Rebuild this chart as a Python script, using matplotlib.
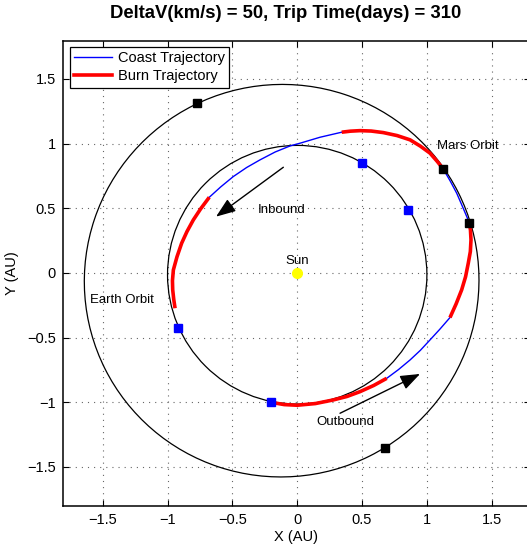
import matplotlib
matplotlib.use("Agg")
import matplotlib.pyplot as plt
from matplotlib.patches import Ellipse
from matplotlib.lines import Line2D

plt.rcParams['font.family'] = ['Liberation Sans', 'DejaVu Sans']

# ---- data (AU) ----
title_txt = "DeltaV(km/s) = 50, Trip Time(days) = 310"

# orbit ellipses: center, width, height, angle
earth_orbit = dict(cx=0.0, cy=-0.014, w=2.0, h=2.0, ang=0.0)
mars_orbit = dict(cx=-0.12, cy=-0.06, w=3.046, h=3.032, ang=26.6)

burn1_x = [-0.204, -0.1, 0.0, 0.14, 0.278, 0.384, 0.484, 0.59, 0.69]
burn1_y = [-1.0, -1.018, -1.023, -1.01, -0.982, -0.955, -0.918, -0.87, -0.815]
coast1_x = [0.69, 0.78, 0.87, 0.95, 1.024, 1.10, 1.178]
coast1_y = [-0.815, -0.748, -0.673, -0.598, -0.518, -0.435, -0.345]
burn2_x = [1.178, 1.225, 1.268, 1.298, 1.319, 1.335, 1.34, 1.336, 1.327]
burn2_y = [-0.345, -0.24, -0.131, -0.03, 0.075, 0.165, 0.255, 0.33, 0.389]
coast2_x = [1.327, 1.28, 1.23, 1.18, 1.127]
coast2_y = [0.389, 0.50, 0.616, 0.71, 0.802]
burn3_x = [1.127, 1.08, 1.024, 0.95, 0.87, 0.77, 0.664, 0.57, 0.484, 0.41, 0.343]
burn3_y = [0.802, 0.862, 0.926, 0.98, 1.029, 1.062, 1.085, 1.097, 1.10, 1.096, 1.088]
coast3_x = [0.343, 0.253, 0.176, 0.022, -0.055, -0.17, -0.287, -0.39, -0.493, -0.59, -0.678]
coast3_y = [1.088, 1.067, 1.049, 1.003, 0.982, 0.935, 0.874, 0.815, 0.745, 0.665, 0.585]
burn4_x = [-0.678, -0.745, -0.801, -0.85, -0.891, -0.927, -0.955, -0.962, -0.96, -0.952, -0.942]
burn4_y = [0.585, 0.495, 0.41, 0.32, 0.23, 0.125, 0.023, -0.06, -0.131, -0.205, -0.273]

earth_pos_x = [-0.204, 0.50, 0.856, -0.917]
earth_pos_y = [-1.0, 0.85, 0.487, -0.425]
mars_pos_x = [0.678, 1.327, 1.127, -0.77]
mars_pos_y = [-1.353, 0.389, 0.802, 1.315]

ticks = [-1.5, -1, -0.5, 0, 0.5, 1, 1.5]
tick_labels = ['\u22121.5', '\u22121', '\u22120.5', '0', '0.5', '1', '1.5']

# ---- figure ----
W, H = 527, 546
fig = plt.figure(figsize=(W / 100, H / 100), dpi=100)
ax = fig.add_axes([63 / W, 1 - 506 / H, 467 / W, 465.5 / H])
ax.set_xlim(-1.806, 1.795)
ax.set_ylim(-1.802, 1.797)

for o in (earth_orbit, mars_orbit):
    ax.add_patch(Ellipse((o['cx'], o['cy']), o['w'], o['h'], angle=o['ang'],
                         fill=False, edgecolor='black', linewidth=0.9, zorder=2))

for xs, ys in [(coast1_x, coast1_y), (coast2_x, coast2_y), (coast3_x, coast3_y)]:
    ax.plot(xs, ys, color='blue', linewidth=1.0, zorder=3)
for xs, ys in [(burn1_x, burn1_y), (burn2_x, burn2_y), (burn3_x, burn3_y), (burn4_x, burn4_y)]:
    ax.plot(xs, ys, color='red', linewidth=2.6, zorder=3, solid_capstyle='butt')

ax.plot(earth_pos_x, earth_pos_y, linestyle='none', marker='s', markersize=6,
        color='blue', zorder=4)
ax.plot(mars_pos_x, mars_pos_y, linestyle='none', marker='s', markersize=6,
        color='black', zorder=4)
ax.plot([0], [0], linestyle='none', marker='o', markersize=7, color='yellow',
        markeredgecolor='yellow', zorder=4)

fs_ann = 9.5
ax.text(0.0, 0.095, 'Sun', ha='center', va='center', fontsize=fs_ann)
ax.text(-1.353, -0.21, 'Earth Orbit', ha='center', va='center', fontsize=fs_ann)
ax.text(1.319, 0.982, 'Mars Orbit', ha='center', va='center', fontsize=fs_ann)
ax.text(-0.12, 0.487, 'Inbound', ha='center', va='center', fontsize=fs_ann)
ax.text(0.368, -1.15, 'Outbound', ha='center', va='center', fontsize=fs_ann)

arrow = dict(arrowstyle='-|>,head_length=0.75,head_width=0.28', color='black',
             linewidth=1.0, mutation_scale=16, shrinkA=0, shrinkB=0)
ax.annotate('', xy=(-0.626, 0.435), xytext=(-0.107, 0.817), arrowprops=arrow)
ax.annotate('', xy=(0.947, -0.781), xytext=(0.33, -1.085), arrowprops=arrow)

ax.set_xticks(ticks)
ax.set_xticklabels(tick_labels)
ax.set_yticks(ticks)
ax.set_yticklabels(tick_labels)
ax.tick_params(direction='in', top=True, right=True, labelsize=10.5, length=4,
               width=0.8, pad=5)
ax.grid(True, linestyle=(0, (1, 4.5)), color='#666666', linewidth=0.8)
for s in ax.spines.values():
    s.set_linewidth(1.1)

ax.set_xlabel('X (AU)', fontsize=10.5, labelpad=2)
ax.set_ylabel('Y (AU)', fontsize=10.5, labelpad=6)

fig.text(286 / W, 1 - 14 / H, title_txt, ha='center', va='center',
         fontsize=13.3, fontweight='bold')

handles = [Line2D([], [], color='blue', linewidth=1.0),
           Line2D([], [], color='red', linewidth=2.6)]
leg = ax.legend(handles, ['Coast Trajectory', 'Burn Trajectory'], loc='upper left',
                bbox_to_anchor=(7 / 467, 1 - 6 / 465.5), borderaxespad=0,
                fontsize=10.5, fancybox=False, framealpha=1, edgecolor='black',
                handlelength=2.6, handletextpad=0.4, borderpad=0.3,
                labelspacing=0.3)
leg.get_frame().set_linewidth(0.9)

fig.savefig('out.png', dpi=100)
